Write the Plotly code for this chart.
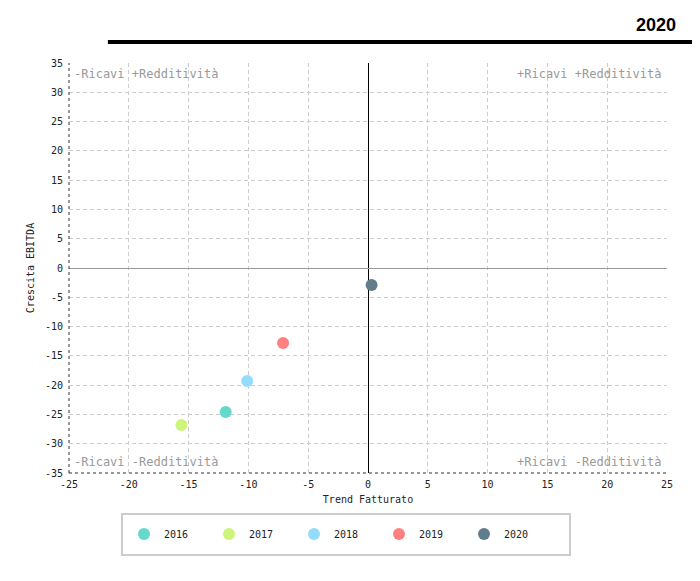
import plotly.graph_objects as go

years = ["2016", "2017", "2018", "2019", "2020"]
trend_fatturato = [-11.9, -15.6, -10.1, -7.1, 0.3]
crescita_ebitda = [-24.6, -26.8, -19.3, -12.8, -2.9]
colors = ["#64d8cb", "#ccf57a", "#94dcfb", "#ff8080", "#607d8b"]

x_ticks = [-25, -20, -15, -10, -5, 0, 5, 10, 15, 20, 25]
y_ticks = [-35, -30, -25, -20, -15, -10, -5, 0, 5, 10, 15, 20, 25, 30, 35]

mono = "DejaVu Sans Mono"
fig = go.Figure()
for yr, xv, yv, c in zip(years, trend_fatturato, crescita_ebitda, colors):
    fig.add_trace(go.Scatter(x=[xv], y=[yv], mode="markers", name=yr,
                             marker=dict(color=c, size=12, line=dict(width=0))))

fig.update_layout(
    width=692, height=573,
    margin=dict(l=61, r=33, t=55, b=108),
    plot_bgcolor="white", paper_bgcolor="white",
    font=dict(family=mono, size=10, color="#222"),
    showlegend=True,
    legend=dict(orientation="h", x=0.092, y=-0.149, xanchor="left", yanchor="middle",
                borderwidth=0, bgcolor="rgba(0,0,0,0)",
                entrywidth=40, entrywidthmode="pixels",
                font=dict(family=mono, size=10, color="#222"),
                itemsizing="constant"),
    xaxis=dict(range=[-25, 25], tickvals=x_ticks, ticktext=[str(v) for v in x_ticks],
               showgrid=True, gridcolor="#cccccc", griddash="4px,3px", gridwidth=1,
               zeroline=True, zerolinecolor="#000000", zerolinewidth=1,
               showline=False, ticks="", ticklabelstandoff=4,
               title=dict(text="Trend Fatturato", font=dict(size=10), standoff=6),
               tickfont=dict(size=10)),
    yaxis=dict(range=[-35, 35], tickvals=y_ticks, ticktext=[str(v) for v in y_ticks],
               showgrid=True, gridcolor="#cccccc", griddash="4px,3px", gridwidth=1,
               zeroline=True, zerolinecolor="#999999", zerolinewidth=1,
               showline=False, ticks="", ticklabelstandoff=5,
               title=dict(text="Crescita EBITDA", font=dict(size=10), standoff=8),
               tickfont=dict(size=10)),
)

# dotted axis lines (left and bottom)
fig.add_shape(type="line", xref="paper", yref="paper", x0=0, x1=0, y0=0, y1=1,
              line=dict(color="#333", width=1, dash="dot"))
fig.add_shape(type="line", xref="paper", yref="paper", x0=0, x1=1, y0=0, y1=0,
              line=dict(color="#333", width=1, dash="dot"))
# top heavy rule
fig.add_shape(type="line", xref="paper", yref="paper", x0=0.065, x1=1.06, y0=1.051, y1=1.051,
              line=dict(color="#000", width=4))
# legend box
fig.add_shape(type="rect", xref="paper", yref="paper", x0=0.0886, x1=0.8378, y0=-0.2, y1=-0.1,
              line=dict(color="#cccccc", width=2), fillcolor="rgba(0,0,0,0)")

# title
fig.add_annotation(text="<b>2020</b>", xref="paper", yref="paper", x=1.018, y=1.093,
                   xanchor="right", yanchor="middle", showarrow=False,
                   font=dict(family="Liberation Sans", size=18, color="#000"))

quad_font = dict(family=mono, size=12, color="#999999")
fig.add_annotation(text="-Ricavi +Redditività", xref="paper", yref="paper", x=0.005, y=0.995,
                   xanchor="left", yanchor="top", showarrow=False, font=quad_font)
fig.add_annotation(text="+Ricavi +Redditività", xref="paper", yref="paper", x=0.995, y=0.995,
                   xanchor="right", yanchor="top", showarrow=False, font=quad_font)
fig.add_annotation(text="-Ricavi -Redditività", xref="paper", yref="paper", x=0.005, y=0.005,
                   xanchor="left", yanchor="bottom", showarrow=False, font=quad_font)
fig.add_annotation(text="+Ricavi -Redditività", xref="paper", yref="paper", x=0.995, y=0.005,
                   xanchor="right", yanchor="bottom", showarrow=False, font=quad_font)

fig.write_html("out.html")
